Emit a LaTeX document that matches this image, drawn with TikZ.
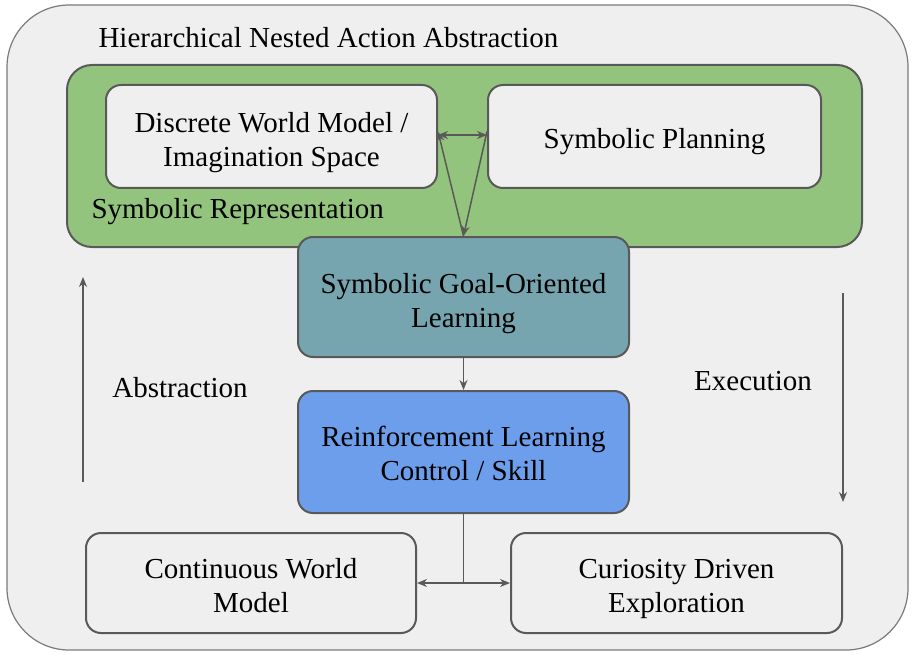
\documentclass[tikz,border=0pt]{standalone}
\usepackage{fontspec}
\setmainfont{Liberation Serif}
\usetikzlibrary{arrows.meta}
\definecolor{panel}{HTML}{EFEFEF}
\definecolor{edge}{HTML}{595959}
\definecolor{symgreen}{HTML}{93C47D}
\definecolor{goalteal}{HTML}{76A5AF}
\definecolor{rlblue}{HTML}{6D9EEB}
\newcommand{\drop}[1]{\rule{0pt}{#1}}
\tikzset{
  box/.style={draw=edge, line width=2pt, fill=panel, rounded corners=15pt, align=center, inner sep=0pt},
  arr/.style={draw=edge, line width=1.5pt, -{Stealth[length=10pt,width=8pt]}},
  biarr/.style={draw=edge, line width=1.5pt, {Stealth[length=10pt,width=8pt]}-{Stealth[length=10pt,width=8pt]}}
}
\begin{document}
\begin{tikzpicture}[x=1pt, y=-1pt, font=\fontsize{29}{34}\selectfont]
    \useasboundingbox (0,0) rectangle (915,655);
    % Outer frame
    \draw[draw=edge!80, line width=1.2pt, fill=panel, rounded corners=62pt] (7,5) rectangle (908,650);
    \node[anchor=west] (title) at (95,38) {Hierarchical Nested Action Abstraction};

    % Symbolic layer
    \draw[draw=edge, line width=2pt, fill=symgreen, rounded corners=25pt] (67,65) rectangle (862,247);
    \node[anchor=west] (symrep) at (88,212) {Symbolic Representation};
    \node[box, minimum width=331pt, minimum height=103pt] (discrete) at (271.5,136.5) {\drop{32pt}Discrete World Model /\\Imagination Space};
    \node[box, minimum width=333pt, minimum height=103pt] (planning) at (654.5,136.5) {\drop{30pt}Symbolic Planning};

    % Learning layers
    \node[box, fill=goalteal, minimum width=331pt, minimum height=120pt] (goal) at (463.5,297) {\drop{33pt}Symbolic Goal-Oriented\\Learning};
    \node[box, fill=rlblue, minimum width=331pt, minimum height=122pt] (rl) at (463.5,452) {\drop{24pt}Reinforcement Learning\\Control / Skill};

    % Bottom layer
    \node[box, minimum width=330pt, minimum height=100pt] (cont) at (251,583) {\drop{26pt}Continuous World\\Model};
    \node[box, minimum width=331pt, minimum height=100pt] (curio) at (676.5,583) {\drop{32pt}Curiosity Driven\\Exploration};

    % Side labels
    \node (abs) at (180,388) {Abstraction};
    \node (exe) at (753,381) {Execution};
    \coordinate (absLow) at (83,482);
    \coordinate (absHigh) at (83,277);
    \coordinate (exeHigh) at (843,293);
    \coordinate (exeLow) at (843,502);
    \draw[arr] (absLow) -- (absHigh);
    \draw[arr] (exeHigh) -- (exeLow);

    % Connectors
    \draw[biarr] ([yshift=1.5pt]discrete.east) -- ([yshift=1.5pt]planning.west);
    \draw[arr] (goal.north) -- ([yshift=5pt]discrete.east);
    \draw[arr] ([yshift=5pt]planning.west) -- (goal.north);
    \draw[arr] (goal) -- (rl);
    \coordinate (split) at (rl.south |- cont.east);
    \draw[draw=edge, line width=1.5pt] (rl.south) -- (split);
    \draw[biarr] (cont.east) -- (curio.west);
\end{tikzpicture}
\end{document}
